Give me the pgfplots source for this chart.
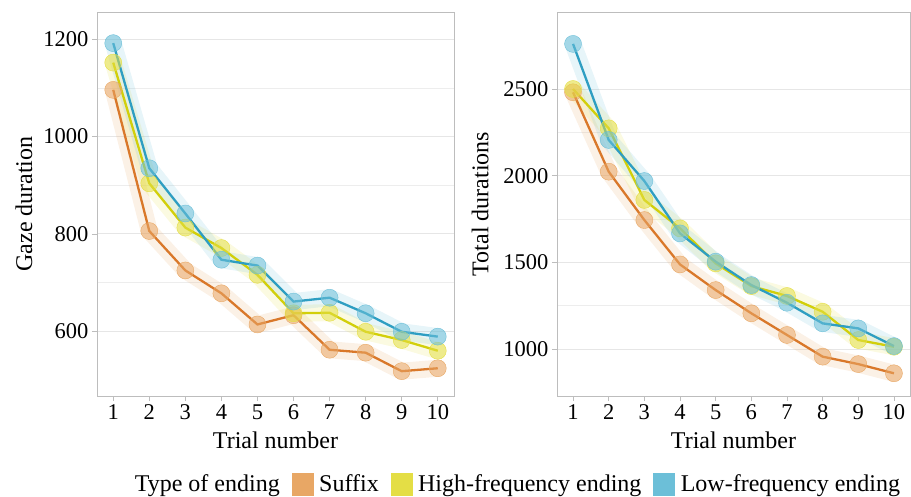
\documentclass[border=0pt]{standalone}
\usepackage{pgfplots}
\pgfplotsset{compat=1.18}
\usepackage{fontspec}
\setmainfont{Liberation Serif}
\definecolor{sufL}{HTML}{D9782A}
\definecolor{sufP}{HTML}{E8A765}
\definecolor{hiL}{HTML}{D2CF0A}
\definecolor{hiP}{HTML}{E4DE45}
\definecolor{loL}{HTML}{2E9EC2}
\definecolor{loP}{HTML}{6CBFD8}
\definecolor{boxc}{HTML}{BDBDBD}
\definecolor{gridc}{HTML}{E6E6E6}
\begin{document}
\begin{tikzpicture}[font=\fontsize{24}{28}\selectfont]
\useasboundingbox (0,0) rectangle (911pt,496pt);
\pgfplotsset{
  myaxis/.style={
    scale only axis, anchor=south west,
    height=384pt,
    xmin=0.55, xmax=10.45,
    xtick={1,...,10},
    axis line style={boxc, line width=0.9pt},
    tick style={boxc, line width=0.8pt},
    tick align=outside, major tick length=5pt,
    xtick pos=bottom, ytick pos=left,
    ymajorgrids, yminorgrids,
    major grid style={gridc, line width=0.9pt},
    minor grid style={gridc!70, line width=0.6pt},
    minor y tick num=1,
    minor tick length=0pt,
    tick label style={font=\fontsize{22.5}{26}\selectfont},
    /pgf/number format/assume math mode=true,
    /pgf/number format/1000 sep={},
    xlabel={Trial number},
    every axis x label/.style={at={(axis description cs:0.5,-0.115)}, anchor=center},
  },
  rib/.style={line width=17pt, opacity=0.16, line join=round, line cap=round},
  pts/.style={only marks, mark=*, mark size=8.5pt, mark options={draw=none, fill opacity=0.55}},
  ln/.style={line width=2.3pt, no marks},
}
\begin{axis}[myaxis, at={(97pt,100pt)}, width=357pt,
  ymin=467, ymax=1256, ytick={600,800,1000,1200},
  ylabel={Gaze duration},
  every axis y label/.style={at={(axis description cs:-0.205,0.5)}, anchor=center, rotate=90},
]
\addplot[rib, sufP] coordinates {(1,1096)(2,806)(3,725)(4,678)(5,614)(6,633)(7,562)(8,556)(9,518)(10,524)};
\addplot[rib, hiP] coordinates {(1,1152)(2,904)(3,813)(4,771)(5,716)(6,637)(7,638)(8,599)(9,582)(10,560)};
\addplot[rib, loP] coordinates {(1,1192)(2,935)(3,842)(4,747)(5,735)(6,661)(7,669)(8,637)(9,599)(10,589)};
\addplot[pts, sufP] coordinates {(1,1096)(2,806)(3,725)(4,678)(5,614)(6,633)(7,562)(8,556)(9,518)(10,524)};
\addplot[pts, hiP] coordinates {(1,1152)(2,904)(3,813)(4,771)(5,716)(6,637)(7,638)(8,599)(9,582)(10,560)};
\addplot[pts, loP] coordinates {(1,1192)(2,935)(3,842)(4,747)(5,735)(6,661)(7,669)(8,637)(9,599)(10,589)};
\addplot[ln, sufL] coordinates {(1,1096)(2,806)(3,725)(4,678)(5,614)(6,633)(7,562)(8,556)(9,518)(10,524)};
\addplot[ln, hiL] coordinates {(1,1152)(2,904)(3,813)(4,771)(5,716)(6,637)(7,638)(8,599)(9,582)(10,560)};
\addplot[ln, loL] coordinates {(1,1192)(2,935)(3,842)(4,747)(5,735)(6,661)(7,669)(8,637)(9,599)(10,589)};
\end{axis}
\begin{axis}[myaxis, at={(557pt,100pt)}, width=353pt,
  ymin=729, ymax=2944, ytick={1000,1500,2000,2500},
  ylabel={Total durations},
  every axis y label/.style={at={(axis description cs:-0.218,0.5)}, anchor=center, rotate=90},
  legend columns=4,
  legend style={draw=none, fill=none, at={(axis description cs:-0.112,-0.229)}, anchor=center,
    /tikz/every even column/.append style={column sep=6pt},
    legend cell align=left, inner sep=0pt,
    nodes={inner xsep=6pt}},
]
\addplot[rib, sufP, forget plot] coordinates {(1,2481)(2,2023)(3,1744)(4,1488)(5,1340)(6,1206)(7,1081)(8,956)(9,913)(10,860)};
\addplot[rib, hiP, forget plot] coordinates {(1,2500)(2,2273)(3,1860)(4,1696)(5,1494)(6,1363)(7,1306)(8,1215)(9,1052)(10,1013)};
\addplot[rib, loP, forget plot] coordinates {(1,2760)(2,2206)(3,1969)(4,1667)(5,1504)(6,1369)(7,1267)(8,1148)(9,1119)(10,1017)};
\addplot[pts, sufP, forget plot] coordinates {(1,2481)(2,2023)(3,1744)(4,1488)(5,1340)(6,1206)(7,1081)(8,956)(9,913)(10,860)};
\addplot[pts, hiP, forget plot] coordinates {(1,2500)(2,2273)(3,1860)(4,1696)(5,1494)(6,1363)(7,1306)(8,1215)(9,1052)(10,1013)};
\addplot[pts, loP, forget plot] coordinates {(1,2760)(2,2206)(3,1969)(4,1667)(5,1504)(6,1369)(7,1267)(8,1148)(9,1119)(10,1017)};
\addplot[ln, sufL, forget plot] coordinates {(1,2481)(2,2023)(3,1744)(4,1488)(5,1340)(6,1206)(7,1081)(8,956)(9,913)(10,860)};
\addplot[ln, hiL, forget plot] coordinates {(1,2500)(2,2273)(3,1860)(4,1696)(5,1494)(6,1363)(7,1306)(8,1215)(9,1052)(10,1013)};
\addplot[ln, loL, forget plot] coordinates {(1,2760)(2,2206)(3,1969)(4,1667)(5,1504)(6,1369)(7,1267)(8,1148)(9,1119)(10,1017)};
\addlegendimage{legend image code/.code={}}
\addlegendentry{Type of ending}
\addlegendimage{legend image code/.code={\fill[sufP] (0pt,-11pt) rectangle (21pt,11pt);}}
\addlegendentry{Suffix}
\addlegendimage{legend image code/.code={\fill[hiP] (0pt,-11pt) rectangle (21pt,11pt);}}
\addlegendentry{High-frequency ending}
\addlegendimage{legend image code/.code={\fill[loP] (0pt,-11pt) rectangle (21pt,11pt);}}
\addlegendentry{Low-frequency ending}
\end{axis}
\end{tikzpicture}
\end{document}
